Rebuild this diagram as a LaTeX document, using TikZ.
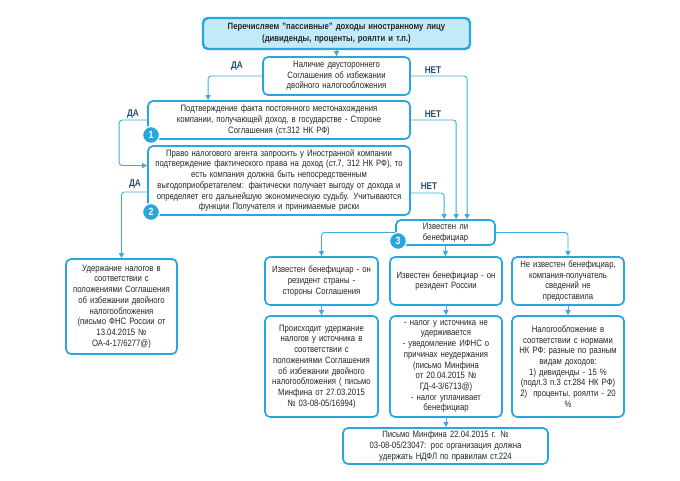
\documentclass[tikz,border=0pt]{standalone}
\usepackage{fontspec}
\setmainfont{Liberation Sans}[FakeStretch=0.84]
\usetikzlibrary{arrows.meta,positioning,calc}
\definecolor{bblue}{HTML}{27A6DF}
\definecolor{cblue}{HTML}{3AAEE3}
\definecolor{topfill}{HTML}{C2EAF9}
\definecolor{lblcol}{HTML}{24506E}
\definecolor{txt}{HTML}{262626}
\tikzset{
  box/.style={draw=bblue,line width=1.7pt,rounded corners=5pt,fill=white,align=center,
    text=txt,inner sep=1pt,font=\fontsize{9.2}{10.7}\selectfont},
  topbox/.style={box,line width=2.4pt,fill=topfill,font=\bfseries\fontsize{9.2}{11.5}\selectfont},
  conn/.style={draw=cblue,line width=0.9pt,rounded corners=3pt,-{Triangle[width=5pt,length=5pt]}},
  lbl/.style={text=lblcol,font=\bfseries\fontsize{9.8}{10}\selectfont,inner sep=0pt},
  badge/.style={circle,fill=bblue,draw=white,line width=1.3pt,minimum size=17pt,inner sep=0pt,
    text=white,font=\bfseries\fontsize{10.5}{10}\selectfont}
}
\begin{document}
\begin{tikzpicture}[x=1pt,y=-1pt]
\useasboundingbox[fill=white] (0,0) rectangle (680,480);
% boxes
\node[topbox,minimum width=267pt,minimum height=31pt,text width=261pt] (top) at (336.5,33.5)
  {Перечисляем "пассивные" доходы иностранному лицу\\(дивиденды, проценты, роялти и т.п.)};
\node[box,minimum width=147pt,minimum height=38pt,text width=141pt] (A) at (336.5,76)
  {Наличие двустороннего\\Соглашения об избежании\\двойного налогообложения};
\node[box,minimum width=262pt,minimum height=38pt,text width=256pt] (B1) at (279,120)
  {Подтверждение факта постоянного местонахождения\\компании, получающей доход, в государстве - Стороне\\Соглашения (ст.312 НК РФ)};
\node[box,minimum width=262pt,minimum height=69pt,text width=256pt] (B2) at (279,180.5)
  {Право налогового агента запросить у Иностранной компании\\подтверждение фактического права на доход (ст.7, 312 НК РФ), то\\есть компания должна быть непосредственным\\выгодоприобретателем: фактически получает выгоду от дохода и\\определяет его дальнейшую экономическую судьбу. Учитываются\\функции Получателя и принимаемые риски};
\node[box,minimum width=99pt,minimum height=25pt,text width=93pt] (B3) at (445.5,232.5)
  {Известен ли\\бенефициар};
\node[box,minimum width=113pt,minimum height=48pt,text width=111pt] (L) at (321.5,281)
  {Известен бенефициар - он\\резидент страны -\\стороны Соглашения};
\node[box,minimum width=112pt,minimum height=48pt,text width=110pt] (M) at (446,281)
  {Известен бенефициар - он\\резидент России};
\node[box,minimum width=112pt,minimum height=48pt,text width=110pt] (R) at (568,281)
  {Не известен бенефициар,\\компания-получатель\\сведений не\\предоставила};
\node[box,minimum width=113pt,minimum height=101pt,text width=111pt] (L2) at (321.5,366.5)
  {Происходит удержание\\налогов у источника в\\соответствии с\\положениями Соглашения\\об избежании двойного\\налогообложения ( письмо\\Минфина от 27.03.2015\\№ 03-08-05/16994)};
\node[box,minimum width=112pt,minimum height=101pt,text width=110pt] (M2) at (446,366.5)
  {- налог у источника не\\удерживается\\- уведомление ИФНС о\\причинах неудержания\\(письмо Минфина\\от 20.04.2015 №\\ГД-4-3/6713@)\\- налог уплачивает\\бенефициар};
\node[box,minimum width=112pt,minimum height=101pt,text width=110pt] (R2) at (568,366.5)
  {Налогообложение в\\соответствии с нормами\\НК РФ: разные по разным\\видам доходов:\\1) дивиденды - 15 \%\\(подл.3 п.3 ст.284 НК РФ)\\2)\ \ проценты, роялти - 20\\\%};
\node[box,minimum width=205pt,minimum height=36pt,text width=199pt] (bot) at (445.5,446)
  {Письмо Минфина 22.04.2015 г. №\\03-08-05/23047: рос организация должна\\удержать НДФЛ по правилам ст.224};
\node[box,minimum width=111pt,minimum height=95pt,text width=109pt] (Ud) at (121.5,306.5)
  {Удержание налогов в\\соответствии с\\положениями Соглашения\\об избежании двойного\\налогообложения\\(письмо ФНС России от\\13.04.2015 №\\ОА-4-17/6277@)};
% badges
\node[badge] (n1) at (151,135) {1};
\node[badge] (n2) at (151,212) {2};
\node[badge] (n3) at (398,241) {3};
% connectors
\draw[conn] (top.south) -- (A.north);
\draw[conn] (A.west) -| ([xshift=61pt]B1.north west);
\draw[conn] (A.east) -| ([xshift=72pt]B3.north west);
\draw[conn] (B1.west) -- ++(-28,0) |- ([yshift=15pt]B2.west);
\draw[conn] (B1.east) -| ([xshift=61pt]B3.north west);
\draw[conn] ([yshift=-11.5pt]B2.west) -| (Ud.north);
\draw[conn] ([yshift=-12.5pt]B2.east) -| ([xshift=49pt]B3.north west);
\draw[conn] (B3.west) -| (L.north);
\draw[conn] (B3.south) -- (B3.south |- M.north);
\draw[conn] (B3.east) -| (R.north);
\draw[conn] (L.south) -- (L2.north);
\draw[conn] (M.south) -- (M2.north);
\draw[conn] (R.south) -- (R2.north);
\draw[conn] (M2.south) -- (M2.south |- bot.north);
% labels
\node[lbl] (da1) at (237,66) {ДА};
\node[lbl] (net1) at (433,70) {НЕТ};
\node[lbl] (da2) at (133,114) {ДА};
\node[lbl] (net2) at (433,114) {НЕТ};
\node[lbl] (da3) at (135,184) {ДА};
\node[lbl] (net3) at (429,186) {НЕТ};
\end{tikzpicture}
\end{document}
